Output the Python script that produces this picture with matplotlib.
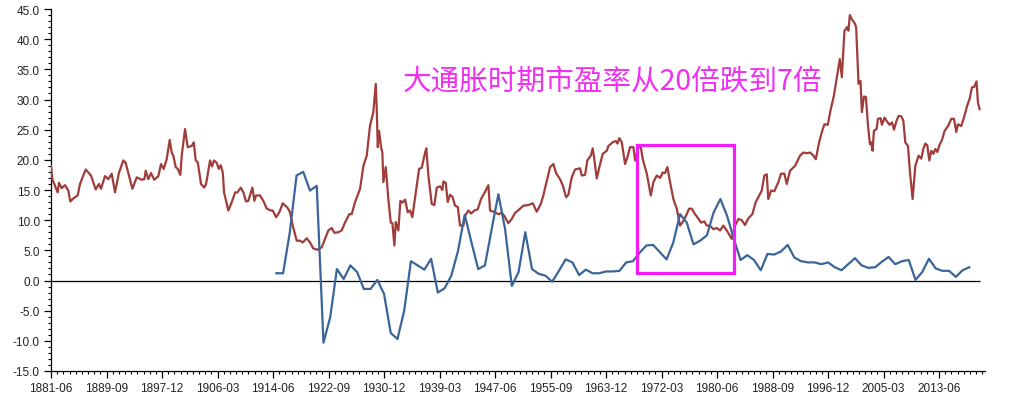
import matplotlib.pyplot as plt
from matplotlib.patches import Rectangle
from matplotlib.ticker import FixedLocator, MultipleLocator
import numpy as np

# x axis labels (one every 99 months)
tick_labels = ['1881-06', '1889-09', '1897-12', '1906-03', '1914-06', '1922-09',
               '1930-12', '1939-03', '1947-06', '1955-09', '1963-12', '1972-03',
               '1980-06', '1988-09', '1996-12', '2005-03', '2013-06']

# Shiller CAPE (decimal year, value)
cape_year = [1881.42, 1881.61, 1882.41, 1882.60, 1883.01, 1883.50, 1883.99, 1884.29, 1884.73, 1885.38,
             1885.73, 1886.57, 1887.36, 1888.06, 1888.55, 1888.85, 1889.44, 1889.94, 1890.44, 1890.93,
             1891.53, 1892.17, 1892.52, 1893.51, 1894.16, 1894.90, 1895.29, 1895.50, 1895.88, 1896.28,
             1896.77, 1897.37, 1897.77, 1898.17, 1898.61, 1899.06, 1899.36, 1899.60, 1899.95, 1900.25,
             1900.64, 1900.85, 1901.34, 1901.74, 1902.34, 1902.64, 1902.93, 1903.23, 1903.72, 1904.17,
             1904.47, 1905.06, 1905.36, 1905.65, 1906.05, 1906.35, 1906.65, 1906.95, 1907.14, 1907.78,
             1908.29, 1908.78, 1909.12, 1909.63, 1910.01, 1910.41, 1910.75, 1911.35, 1911.65, 1911.90,
             1912.49, 1912.98, 1913.49, 1914.08, 1914.38, 1914.87, 1915.36, 1915.86, 1916.55, 1916.95,
             1917.35, 1917.94, 1918.43, 1918.83, 1919.43, 1919.92, 1920.41, 1921.01, 1921.66, 1922.15,
             1922.64, 1923.15, 1923.54, 1924.13, 1924.63, 1925.12, 1925.76, 1926.12, 1926.61, 1927.36,
             1927.85, 1928.35, 1928.84, 1929.33, 1929.69, 1929.84, 1929.99, 1930.18, 1930.48, 1930.67,
             1930.82, 1931.18, 1931.56, 1931.92, 1932.16, 1932.46, 1932.66, 1933.05, 1933.35, 1933.65,
             1934.05, 1934.45, 1934.79, 1935.13, 1935.64, 1936.13, 1936.53, 1937.02, 1937.21, 1937.51,
             1938.01, 1938.40, 1938.76, 1939.25, 1939.59, 1939.74, 1940.09, 1940.39, 1940.73, 1941.08,
             1941.48, 1941.88, 1942.22, 1942.71, 1942.96, 1943.46, 1943.86, 1944.35, 1944.85, 1945.34,
             1945.93, 1946.43, 1946.68, 1947.42, 1947.91, 1948.42, 1948.80, 1949.40, 1949.90, 1950.39,
             1950.84, 1951.63, 1952.37, 1953.03, 1953.62, 1954.22, 1954.60, 1955.00, 1955.60, 1956.09,
             1956.49, 1957.08, 1957.48, 1957.98, 1958.32, 1958.82, 1959.31, 1960.06, 1960.31, 1960.80,
             1961.14, 1961.65, 1961.94, 1962.14, 1962.54, 1962.93, 1963.43, 1964.03, 1964.27, 1965.01,
             1965.41, 1965.61, 1965.90, 1966.26, 1966.75, 1967.09, 1967.49, 1967.99, 1968.24, 1968.73,
             1969.09, 1969.38, 1969.98, 1970.57, 1970.96, 1971.46, 1971.95, 1972.35, 1972.69, 1973.04,
             1973.44, 1973.93, 1974.43, 1974.92, 1975.27, 1975.56, 1975.92, 1976.26, 1976.66, 1977.15,
             1977.55, 1978.04, 1978.53, 1978.89, 1979.38, 1979.87, 1980.38, 1980.87, 1981.36, 1981.86,
             1982.35, 1982.61, 1983.10, 1983.59, 1984.09, 1984.58, 1985.07, 1985.67, 1986.17, 1986.56,
             1987.06, 1987.45, 1987.81, 1988.04, 1988.45, 1988.94, 1989.53, 1989.93, 1990.43, 1990.78,
             1991.27, 1992.02, 1992.76, 1993.25, 1993.76, 1994.25, 1994.75, 1995.10, 1995.59, 1996.00,
             1996.38, 1996.88, 1997.27, 1997.78, 1998.12, 1998.46, 1998.67, 1998.97, 1999.36, 1999.76,
             1999.95, 2000.16, 2000.46, 2000.95, 2001.10, 2001.45, 2001.74, 2001.95, 2002.25, 2002.55,
             2002.84, 2003.14, 2003.34, 2003.53, 2003.74, 2004.13, 2004.34, 2004.73, 2004.93, 2005.32,
             2005.72, 2006.07, 2006.43, 2006.72, 2007.11, 2007.41, 2007.81, 2008.11, 2008.40, 2008.80,
             2009.10, 2009.49, 2009.89, 2010.38, 2010.78, 2011.08, 2011.38, 2011.67, 2011.97, 2012.27,
             2012.57, 2012.86, 2013.16, 2013.50, 2013.86, 2014.25, 2014.75, 2015.24, 2015.64, 2015.98,
             2016.23, 2016.72, 2017.12, 2017.61, 2017.96, 2018.31, 2018.65, 2018.99, 2019.20, 2019.44]
cape_value = [19.0, 16.8, 14.6, 16.2, 15.3, 15.8, 14.9, 13.1, 13.6, 14.1,
              16.0, 18.4, 17.4, 15.1, 16.0, 15.2, 17.3, 16.8, 17.7, 14.6,
              17.9, 19.9, 19.5, 15.2, 17.1, 16.7, 16.8, 18.2, 16.8, 17.8,
              16.7, 17.3, 19.3, 18.5, 20.1, 23.3, 21.2, 20.7, 18.8, 18.5,
              17.5, 20.7, 25.1, 22.1, 22.3, 22.9, 19.9, 19.6, 16.0, 15.4,
              16.0, 19.9, 18.9, 19.9, 19.5, 18.5, 19.1, 17.9, 14.6, 11.6,
              13.0, 14.6, 14.6, 15.4, 14.6, 13.1, 13.2, 15.4, 13.2, 14.1,
              14.1, 13.2, 11.9, 11.6, 11.6, 10.5, 11.3, 12.8, 12.1, 11.3,
              9.1, 6.6, 6.6, 6.3, 7.0, 6.3, 5.3, 5.1, 5.5, 6.9,
              8.3, 8.7, 7.9, 8.0, 8.3, 9.6, 11.0, 11.0, 13.0, 15.2,
              19.0, 20.7, 25.7, 27.9, 32.6, 28.4, 22.1, 24.8, 22.1, 21.2,
              16.3, 18.8, 13.5, 9.6, 9.5, 5.8, 9.7, 8.3, 13.2, 12.9,
              13.4, 11.3, 11.6, 10.5, 14.6, 18.5, 18.7, 21.2, 21.9, 17.4,
              12.7, 12.5, 15.4, 15.6, 15.0, 16.4, 16.2, 13.0, 14.2, 13.9,
              12.4, 12.2, 9.1, 9.1, 10.7, 11.6, 11.1, 11.6, 11.8, 13.5,
              14.7, 15.8, 11.6, 11.3, 11.0, 11.2, 10.7, 9.5, 10.2, 11.2,
              11.6, 12.4, 12.5, 12.8, 11.4, 12.7, 14.1, 16.0, 18.8, 19.3,
              17.8, 16.8, 15.8, 13.8, 14.2, 17.1, 18.4, 18.6, 17.4, 17.5,
              19.9, 20.7, 21.9, 20.4, 16.9, 18.8, 21.0, 21.5, 22.3, 23.0,
              23.1, 22.7, 23.6, 22.9, 19.3, 20.4, 22.1, 22.1, 19.9, 22.1,
              22.1, 20.1, 17.7, 14.1, 16.3, 17.4, 17.0, 17.9, 17.8, 18.8,
              16.3, 13.5, 11.9, 9.1, 9.6, 10.2, 11.0, 11.9, 11.9, 11.0,
              10.4, 9.6, 9.8, 9.1, 9.1, 8.5, 8.7, 8.3, 9.1, 8.3,
              7.4, 6.9, 9.1, 10.2, 10.0, 9.2, 10.3, 11.0, 13.0, 13.8,
              14.9, 17.4, 17.6, 13.5, 14.9, 14.8, 16.3, 17.7, 17.7, 16.0,
              18.2, 19.0, 20.7, 21.2, 21.1, 21.2, 20.7, 20.1, 22.9, 24.6,
              25.9, 25.8, 28.1, 30.6, 32.9, 35.1, 36.7, 33.7, 41.4, 42.0,
              41.4, 44.0, 43.3, 42.5, 41.9, 32.6, 33.1, 27.9, 30.5, 30.4,
              25.9, 22.6, 22.9, 21.5, 24.8, 25.1, 26.8, 26.9, 25.8, 27.0,
              26.3, 25.8, 26.2, 25.0, 26.5, 27.3, 27.2, 26.5, 22.9, 22.3,
              17.9, 13.5, 19.0, 20.7, 20.2, 21.8, 22.7, 22.4, 19.9, 21.5,
              21.0, 21.8, 21.3, 22.5, 23.3, 24.8, 25.6, 26.8, 26.8, 24.6,
              25.9, 25.6, 27.0, 29.0, 30.1, 32.0, 32.1, 33.0, 29.5, 28.4]

# US CPI inflation (%), one value per year, plotted at December
cpi_year = list(range(1914, 2018))
cpi_value = [1.2, 1.2, 8.0, 17.4, 18.0, 14.9, 15.7, -10.3, -6.1, 1.9,
             0.25, 2.5, 1.4, -1.4, -1.4, 0.1, -2.2, -8.7, -9.7, -5.0,
             3.2, 2.5, 1.8, 3.6, -2.0, -1.3, 0.8, 4.9, 10.9, 6.3,
             1.9, 2.5, 8.5, 14.3, 8.5, -0.9, 1.4, 8.0, 1.9, 1.1,
             0.8, -0.2, 1.6, 3.5, 3.0, 0.9, 1.8, 1.2, 1.2, 1.5,
             1.5, 1.6, 3.0, 3.2, 4.6, 5.8, 5.9, 4.7, 3.5, 6.3,
             11.0, 9.6, 6.0, 6.6, 7.5, 11.3, 13.5, 10.7, 6.9, 3.4,
             4.2, 3.4, 1.7, 4.4, 4.3, 4.8, 5.9, 3.8, 3.2, 3.0,
             3.0, 2.7, 3.0, 2.2, 1.7, 2.7, 3.7, 2.5, 2.1, 2.2,
             3.1, 3.9, 2.7, 3.2, 3.4, 0.1, 1.4, 3.6, 2.0, 1.6,
             1.6, 0.6, 1.7, 2.2]

plt.rcParams['font.family'] = ['Liberation Sans', 'DejaVu Sans']

def to_year(label):
    y, m = label.split('-')
    return int(y) + (int(m) - 1) / 12.0

tick_pos = [to_year(t) for t in tick_labels]
x0 = tick_pos[0]
x1 = x0 + 1666 / 12.0

fig = plt.figure(figsize=(10.1, 4.02), dpi=100)
ax = fig.add_axes([51 / 1010, 30 / 402, 934 / 1010, 362 / 402])

# Lines
ax.plot(cape_year, cape_value, color='#A03C3A', lw=1.6, zorder=3)
cpi_x = [y + 11 / 12.0 for y in cpi_year]
ax.plot(cpi_x, cpi_value, color='#3A6599', lw=1.6, zorder=3)

# zero line
ax.hlines(0, x0, cape_year[-1], color='black', lw=0.9, zorder=2)

# Highlight box and note
ax.add_patch(Rectangle((1968.53, 1.25), 1982.95 - 1968.53, 22.5 - 1.25,
                       fill=False, edgecolor='#F41CF4', lw=2.3, zorder=4))
ax.text(1933.74, 33.1, '大通胀时期市盈率从20倍跌到7倍', color='#F030F0',
        fontsize=20.6, va='center', ha='left', fontweight='light',
        family=['Noto Sans CJK SC', 'DejaVu Sans'])

# Axes
ax.set_xlim(x0, x1)
ax.set_ylim(-15, 45)
ax.xaxis.set_major_locator(FixedLocator(tick_pos))
ax.set_xticklabels(tick_labels)
ax.xaxis.set_minor_locator(FixedLocator(np.arange(x0, x1, 11 / 12.0)))
ax.yaxis.set_major_locator(MultipleLocator(5))
ax.yaxis.set_minor_locator(MultipleLocator(1))
ax.set_yticklabels([f'{v:.1f}' for v in ax.get_yticks()])

for s in ['top', 'right']:
    ax.spines[s].set_visible(False)
for s in ['left', 'bottom']:
    ax.spines[s].set_color('black')
    ax.spines[s].set_linewidth(0.9)

ax.tick_params(axis='both', which='major', length=5, width=0.9, labelsize=8.5,
               labelcolor='#222222', pad=3)
ax.tick_params(axis='both', which='minor', length=2.5, width=0.8)

fig.savefig('out.png', dpi=100)
